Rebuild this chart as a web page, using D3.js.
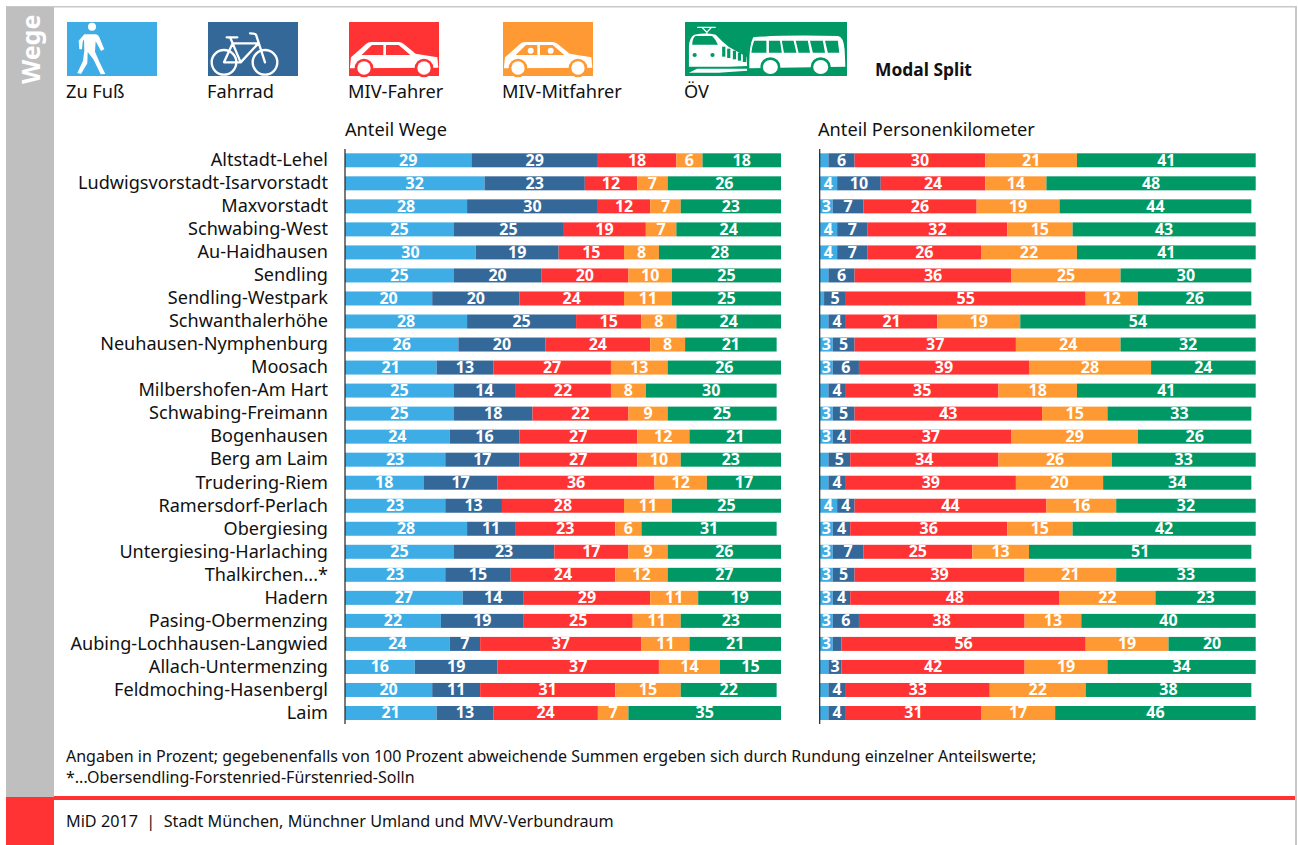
<!DOCTYPE html>
<html lang="de"><head><meta charset="utf-8">
<script src="https://cdnjs.cloudflare.com/ajax/libs/d3/7.8.5/d3.min.js"></script>
<style>
html,body{margin:0;padding:0;background:#fff}
svg{display:block}
text{font-family:"Noto Sans",sans-serif;fill:#111}
</style></head><body>
<svg id="c" width="1298" height="845"></svg>
<script>
const districts=["Altstadt-Lehel","Ludwigsvorstadt-Isarvorstadt","Maxvorstadt","Schwabing-West","Au-Haidhausen","Sendling","Sendling-Westpark","Schwanthalerhöhe","Neuhausen-Nymphenburg","Moosach","Milbershofen-Am Hart","Schwabing-Freimann","Bogenhausen","Berg am Laim","Trudering-Riem","Ramersdorf-Perlach","Obergiesing","Untergiesing-Harlaching","Thalkirchen...*","Hadern","Pasing-Obermenzing","Aubing-Lochhausen-Langwied","Allach-Untermenzing","Feldmoching-Hasenbergl","Laim"];
const modes=["Zu Fuß","Fahrrad","MIV-Fahrer","MIV-Mitfahrer","ÖV"];
const modeColors=["#3fade5","#346899","#ff3333","#ff9933","#009966"];
// Anteil Wege
const wegeFuss=[29,32,28,25,30,25,20,28,26,21,25,25,24,23,18,23,28,25,23,27,22,24,16,20,21];
const wegeRad=[29,23,30,25,19,20,20,25,20,13,14,18,16,17,17,13,11,23,15,14,19,7,19,11,13];
const wegeFahrer=[18,12,12,19,15,20,24,15,24,27,22,22,27,27,36,28,23,17,24,29,25,37,37,31,24];
const wegeMit=[6,7,7,7,8,10,11,8,8,13,8,9,12,10,12,11,6,9,12,11,11,11,14,15,7];
const wegeOev=[18,26,23,24,28,25,25,24,21,26,30,25,21,23,17,25,31,26,27,19,23,21,15,22,35];
// Anteil Personenkilometer
const pkmFuss=[2,4,3,4,4,2,1,2,3,3,2,3,3,2,2,4,3,3,3,3,3,3,2,2,2];
const pkmRad=[6,10,7,7,7,6,5,4,5,6,4,5,4,5,4,4,4,7,5,4,6,2,3,4,4];
const pkmFahrer=[30,24,26,32,26,36,55,21,37,39,35,43,37,34,39,44,36,25,39,48,38,56,42,33,31];
const pkmMit=[21,14,19,15,22,25,12,19,24,28,18,15,29,26,20,16,15,13,21,22,13,19,19,22,17];
const pkmOev=[41,48,44,43,41,30,26,54,32,24,41,33,26,33,34,32,42,51,33,23,40,20,34,38,46];
const panelTitles=["Anteil Wege","Anteil Personenkilometer"];
const minLabelled=3;

const svg=d3.select("#c");
// page frame
svg.append("rect").attr("x",6).attr("y",6).attr("width",1291).attr("height",1.5).attr("fill","#c8c8c8");
svg.append("rect").attr("x",1295).attr("y",6).attr("width",2).attr("height",839).attr("fill","#c8c8c8");
svg.append("rect").attr("x",6).attr("y",7).attr("width",48).attr("height",790).attr("fill","#bfbfbf");
svg.append("rect").attr("x",6).attr("y",797).attr("width",48).attr("height",48).attr("fill","#ff3333");
svg.append("rect").attr("x",54).attr("y",796).attr("width",1241).attr("height",4).attr("fill","#ff3333");
svg.append("text").attr("transform","translate(40,84) rotate(-90)").attr("font-size",25).attr("font-weight",700).style("fill","#fff").text("Wege");

// legend
const legendBoxes=[[67,90],[208,90],[349,90],[503,90],[685,162]];
const legend=svg.append("g");
modes.forEach((m,i)=>{
  legend.append("rect").attr("x",legendBoxes[i][0]).attr("y",22).attr("width",legendBoxes[i][1]).attr("height",54).attr("fill",modeColors[i]);
  legend.append("text").attr("x",legendBoxes[i][0]-1).attr("y",98).attr("font-size",18.2).text(m);
});
const W="#fff";
// walker
const g0=legend.append("g").attr("transform","scale(0.33333)");
g0.append("circle").attr("cx",276).attr("cy",80).attr("r",12).attr("fill",W);
g0.append("path").attr("fill",W).attr("d","M253 103 L288 103 Q295 104 298 112 L313 148 L303 153 L287 124 L285 155 L298 185 L316 222 L302 223 L280 178 L263 156 L262 190 L243 222 L232 219 L249 182 L253 152 L252 118 L248 125 L246 148 L238 148 L236 122 Z");
// bicycle
const g1=legend.append("g").attr("transform","scale(0.33333)").attr("fill","none").attr("stroke",W).attr("stroke-width",7).attr("stroke-linecap","round").attr("stroke-linejoin","round");
g1.append("circle").attr("cx",672).attr("cy",187).attr("r",37);
g1.append("circle").attr("cx",795).attr("cy",187).attr("r",37);
g1.append("path").attr("d","M672 187 L698 130 L775 130 L722 187 Z M698 130 L690 112 M680 112 L712 112 M722 187 L698 130 M795 187 L768 104 Q766 100 750 100");
// cars
function car(tx,heads){
  const fill=modeColors[heads?3:2];
  const g=legend.append("g").attr("transform",`translate(${tx},0) scale(0.33333)`);
  g.append("path").attr("fill",W).attr("d","M1050 200 L1053 172 L1098 132 Q1104 126 1114 126 L1196 126 Q1206 126 1214 134 L1247 161 L1312 172 L1315 203 L1050 205 Z");
  g.append("path").attr("fill",fill).attr("d","M1085 165 L1116 135 L1150 135 L1150 165 Z M1158 135 L1196 135 L1231 165 L1158 165 Z");
  [1092,1272].forEach(cx=>{
    g.append("circle").attr("cx",cx).attr("cy",204).attr("r",28).attr("fill",fill);
    g.append("circle").attr("cx",cx).attr("cy",204).attr("r",20).attr("fill",W);
  });
  if(heads)[1130,1190].forEach(cx=>g.append("circle").attr("cx",cx).attr("cy",152).attr("r",9).attr("fill",W));
}
car(0,false);
car(154,true);
// train and bus
const g4=legend.append("g").attr("transform","translate(685,22) scale(0.35714,0.33333) translate(-686,-66)");
g4.append("path").attr("fill","none").attr("stroke",W).attr("stroke-width",4).attr("d","M720 82 L772 82 M734 82 L747 97 L760 82 M747 97 L747 104");
g4.append("path").attr("fill",W).attr("d","M697 190 L697 140 Q698 112 712 104 Q745 97 772 104 Q790 125 808 140 L858 170 L860 198 L810 200 L697 200 Z");
g4.append("path").attr("fill",W).attr("d","M697 218 L720 206 L860 206 L860 212 L780 218 Z");
g4.append("path").attr("fill",modeColors[4]).attr("d","M706 134 Q708 110 716 108 L762 108 Q772 118 778 134 Z");
g4.append("circle").attr("cx",713).attr("cy",165).attr("r",6).attr("fill",modeColors[4]);
g4.append("circle").attr("cx",763).attr("cy",165).attr("r",6).attr("fill",modeColors[4]);
[790,804,820,834,848].forEach((x,i)=>g4.append("rect").attr("x",x).attr("y",140+i*6).attr("width",9).attr("height",22+(4-i)*2).attr("fill",modeColors[4]));
g4.append("path").attr("fill",W).attr("d","M866 190 Q866 135 877 112 Q960 104 1115 108 Q1130 110 1133 150 L1135 200 L866 205 Z");
g4.append("path").attr("fill",modeColors[4]).attr("d","M880 122 L914 122 L914 158 L872 158 Q874 135 880 122 Z M921 122 L952 122 L957 158 L921 158 Z M957 122 L990 122 L998 158 L963 158 Z M996 122 L1030 122 L1036 158 L1004 158 Z M1036 122 L1072 122 L1078 158 L1044 158 Z M1078 122 L1114 122 L1118 158 L1086 158 Z");
[925,1066].forEach(cx=>{
  g4.append("circle").attr("cx",cx).attr("cy",200).attr("r",28).attr("fill",modeColors[4]);
  g4.append("circle").attr("cx",cx).attr("cy",201).attr("r",21).attr("fill",W);
});
svg.append("text").attr("x",875).attr("y",76).attr("font-size",17.4).attr("font-weight",700).text("Modal Split");

// panels
const yBand=d3.scaleBand().domain(districts).range([153.3,720]).paddingInner(0.392).paddingOuter(0);
function panel(x0,title,columns,titleX){
  const x=d3.scaleLinear().domain([0,100]).range([x0,x0+436]).clamp(true);
  const rows=districts.map((d,i)=>{const r={district:d};modes.forEach((m,j)=>r[m]=columns[j][i]);return r;});
  const series=d3.stack().keys(modes)(rows);
  const g=svg.append("g");
  const layers=g.selectAll("g.s").data(series).join("g").attr("fill",(d,i)=>modeColors[i]);
  layers.selectAll("rect").data(d=>d).join("rect")
    .attr("x",d=>x(d[0])).attr("y",d=>yBand(d.data.district))
    .attr("width",d=>x(d[1])-x(d[0])).attr("height",yBand.bandwidth());
  layers.selectAll("text").data(s=>s.map(d=>({d,v:d[1]-d[0]})).filter(o=>o.v>=minLabelled)).join("text")
    .attr("x",o=>(x(o.d[0])+x(o.d[1]))/2).attr("y",o=>yBand(o.d.data.district)+yBand.bandwidth()/2+5.5)
    .attr("text-anchor","middle").attr("font-size",16).attr("font-weight",700).style("fill","#fff").text(o=>o.v);
  g.append("line").attr("x1",x0).attr("x2",x0).attr("y1",149).attr("y2",724).attr("stroke","#222").attr("stroke-width",1.2);
  g.append("text").attr("x",titleX).attr("y",136).attr("font-size",18.2).text(title);
}
panel(345,panelTitles[0],[wegeFuss,wegeRad,wegeFahrer,wegeMit,wegeOev],345);
panel(819.7,panelTitles[1],[pkmFuss,pkmRad,pkmFahrer,pkmMit,pkmOev],818);

const ax=svg.append("g").attr("transform","translate(345,0)").call(d3.axisLeft(yBand).tickSize(0).tickPadding(17));
ax.select(".domain").remove();
ax.selectAll("text").attr("font-size",18.1).style("font-family",'"Noto Sans",sans-serif').style("fill","#111");

svg.append("text").attr("x",66).attr("y",762).attr("font-size",16).text("Angaben in Prozent; gegebenenfalls von 100 Prozent abweichende Summen ergeben sich durch Rundung einzelner Anteilswerte;");
svg.append("text").attr("x",66).attr("y",783).attr("font-size",16).text("*...Obersendling-Forstenried-Fürstenried-Solln");
svg.append("text").attr("x",66).attr("y",827).attr("font-size",16.2).text("MiD 2017 \u00A0|\u00A0 Stadt München, Münchner Umland und MVV-Verbundraum");
</script>
</body></html>
